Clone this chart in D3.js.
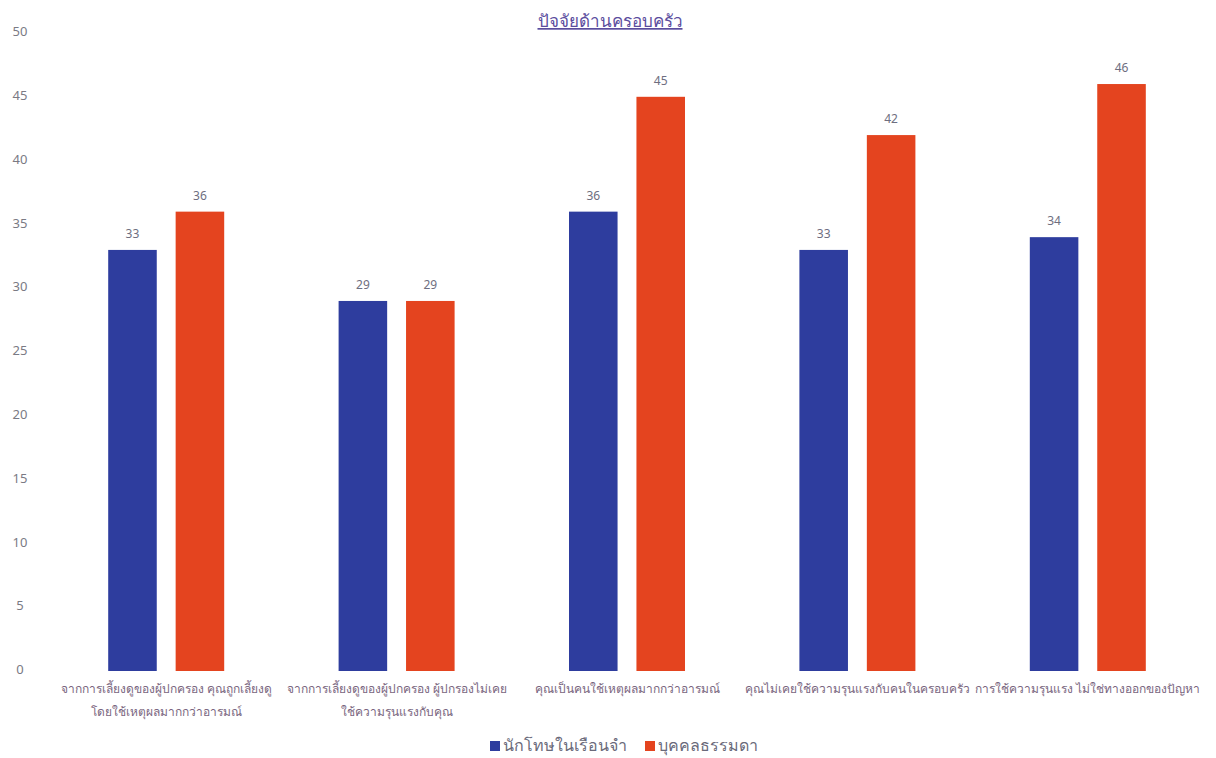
<!DOCTYPE html>
<html>
<head>
<meta charset="utf-8">
<script src="https://cdn.jsdelivr.net/npm/d3@7"></script>
<style>
  html, body { margin: 0; padding: 0; background: #fff; }
  svg { display: block; font-family: Tahoma, "Noto Sans", "DejaVu Sans", sans-serif; }
</style>
</head>
<body>
<svg id="chart" width="1216" height="758"></svg>
<script>
const title = "ปัจจัยด้านครอบครัว";
const categories = [
  ["จากการเลี้ยงดูของผู้ปกครอง คุณถูกเลี้ยงดู", "โดยใช้เหตุผลมากกว่าอารมณ์"],
  ["จากการเลี้ยงดูของผู้ปกครอง ผู้ปกรองไม่เคย", "ใช้ความรุนแรงกับคุณ"],
  ["คุณเป็นคนใช้เหตุผลมากกว่าอารมณ์"],
  ["คุณไม่เคยใช้ความรุนแรงกับคนในครอบครัว"],
  ["การใช้ความรุนแรง ไม่ใช่ทางออกของปัญหา"]
];
const seriesNames = ["นักโทษในเรือนจำ", "บุคคลธรรมดา"];
const prisoners = [33, 29, 36, 33, 34];
const ordinary = [36, 29, 45, 42, 46];
const yTicks = [0, 5, 10, 15, 20, 25, 30, 35, 40, 45, 50];

const colors = ["#2e3d9e", "#e4441f"];
const svg = d3.select("#chart");

const x0 = d3.scaleBand().domain(d3.range(categories.length)).range([51, 1203]).padding(0);
const x1 = d3.scaleBand().domain([0, 1]).range([-58, 58]).paddingInner(0.28).paddingOuter(0);
const y = d3.scaleLinear().domain([0, 50]).range([671, 33]);

// title
svg.append("text")
  .attr("x", 610).attr("y", 27)
  .attr("text-anchor", "middle")
  .attr("font-size", 17)
  .attr("fill", "#5b4d9e")
  .attr("text-decoration", "underline")
  .text(title);

// y axis labels
const yAxis = d3.axisLeft(y).tickValues(yTicks).tickSize(0).tickPadding(0);
const yg = svg.append("g").attr("transform", "translate(20,0)").call(yAxis);
yg.select(".domain").remove();
yg.selectAll("text")
  .attr("text-anchor", "middle")
  .attr("dy", "0.2em")
  .attr("font-size", 13)
  .attr("font-family", "Tahoma, 'Noto Sans', 'DejaVu Sans', sans-serif")
  .attr("fill", "#7a7a84");

const data = categories.map((c, i) => ({ i, vals: [prisoners[i], ordinary[i]] }));

const groups = svg.append("g").selectAll("g").data(data).join("g")
  .attr("transform", d => `translate(${x0(d.i) + x0.bandwidth() / 2},0)`);

groups.selectAll("rect").data(d => d.vals.map((v, k) => ({ v, k }))).join("rect")
  .attr("x", d => x1(d.k))
  .attr("width", x1.bandwidth())
  .attr("y", d => y(d.v))
  .attr("height", d => y(0) - y(d.v))
  .attr("fill", d => colors[d.k]);

groups.selectAll("text.val").data(d => d.vals.map((v, k) => ({ v, k }))).join("text")
  .attr("class", "val")
  .attr("x", d => x1(d.k) + x1.bandwidth() / 2)
  .attr("y", d => y(d.v) - 12)
  .attr("text-anchor", "middle")
  .attr("font-size", 12)
  .attr("fill", "#6e6e80")
  .text(d => d.v);

// x labels
const xl = svg.append("g").selectAll("text").data(categories).join("text")
  .attr("x", (d, i) => x0(i) + x0.bandwidth() / 2)
  .attr("y", 693)
  .attr("text-anchor", "middle")
  .attr("font-size", 12)
  .attr("fill", "#7a6680");
xl.selectAll("tspan").data(d => d).join("tspan")
  .attr("x", function () { return d3.select(this.parentNode).attr("x"); })
  .attr("dy", (d, j) => j === 0 ? 0 : 23)
  .text(d => d);

// legend
const legend = svg.append("g").attr("transform", "translate(0,741)");
let lx = 490;
seriesNames.forEach((name, k) => {
  legend.append("rect").attr("x", lx).attr("y", 0).attr("width", 10).attr("height", 10).attr("fill", colors[k]);
  const t = legend.append("text").attr("x", lx + 13).attr("y", 10).attr("font-size", 16).attr("fill", "#6a6a7a").text(name);
  lx += 13 + t.node().getComputedTextLength() + 18;
});
</script>
</body>
</html>
